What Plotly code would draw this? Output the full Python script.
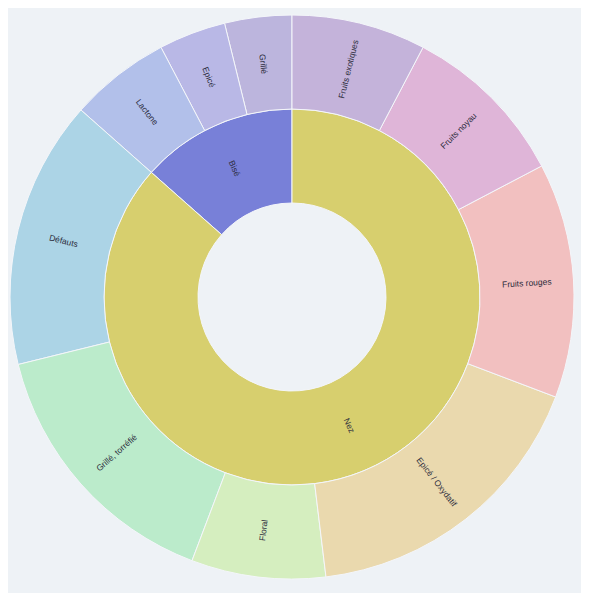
import math
import plotly.graph_objects as go

# Data (listed counter-clockwise from 12 o'clock, as Plotly lays them out)
groups = ["Bisé", "Nez"]
children_bise = ["Grillé", "Epicé", "Lactone"]
values_bise = [2, 2, 3]
children_nez = ["Défauts", "Grillé, torréfié", "Floral", "Epicé / Oxydatif",
                "Fruits rouges", "Fruits noyau", "Fruits exotiques"]
values_nez = [8, 8, 4, 9, 7, 5, 4]

group_colors = {"Bisé": "#7880d8", "Nez": "#d7cf6e"}
child_colors = {
    "Grillé": "#bcb5dd", "Epicé": "#b9b8e6", "Lactone": "#b2c0ea",
    "Défauts": "#acd4e6", "Grillé, torréfié": "#bbebcb", "Floral": "#d5eebf",
    "Epicé / Oxydatif": "#ead9ae", "Fruits rouges": "#f2c0c0",
    "Fruits noyau": "#dfb5d8", "Fruits exotiques": "#c4b3da",
}
bg = "#eef2f6"
text_color = "#2b2b3b"
font_family = "Liberation Sans, Arial"
font_size = 8.5

ids = ["root"]
labels = [""]
parents = [""]
values = [0]
colors = [bg]
for g in groups:
    ids.append(g); labels.append(g); parents.append("root"); values.append(0)
    colors.append(group_colors[g])
    kids, vals = (children_bise, values_bise) if g == "Bisé" else (children_nez, values_nez)
    for k, v in zip(kids, vals):
        ids.append(g + "/" + k); labels.append(k); parents.append(g); values.append(v)
        colors.append(child_colors[k])

fig = go.Figure(go.Sunburst(
    ids=ids,
    labels=labels,
    parents=parents,
    values=values,
    branchvalues="remainder",
    sort=False,
    rotation=90,
    marker=dict(colors=colors, line=dict(color="#f4f6fa", width=1)),
    leaf=dict(opacity=1),
    textinfo="none",
    hoverinfo="label+value",
))

# Radial labels at the middle of every sector (angles derived from the values)
total = sum(values_bise) + sum(values_nez)


def radial_label(text, start, span, ring):
    # angles measured counter-clockwise from 12 o'clock (plotly layout with rotation=90)
    mid = (start + span / 2) / total * 2 * math.pi
    r = (ring + 0.5) / 3 * 0.5  # ring 1 or 2, in paper units (radius 0.5)
    x = 0.5 - r * math.sin(mid)
    y = 0.5 + r * math.cos(mid)
    theta_cw = 360 - math.degrees(mid)  # clockwise from top
    ang = theta_cw - 90
    while ang > 90:
        ang -= 180
    while ang <= -90:
        ang += 180
    fig.add_annotation(x=x, y=y, xref="paper", yref="paper", text=text,
                       xanchor="center", yanchor="middle",
                       showarrow=False, textangle=ang,
                       font=dict(size=font_size, color=text_color, family=font_family))


cum = 0
for g in groups:
    kids, vals = (children_bise, values_bise) if g == "Bisé" else (children_nez, values_nez)
    radial_label(g, cum, sum(vals), 1)
    c = cum
    for k, v in zip(kids, vals):
        radial_label(k, c, v, 2)
        c += v
    cum += sum(vals)

fig.update_layout(
    width=589, height=593,
    margin=dict(l=2, r=23, t=7, b=22),
    paper_bgcolor=bg,
    plot_bgcolor=bg,
)
fig.write_html("out.html")
